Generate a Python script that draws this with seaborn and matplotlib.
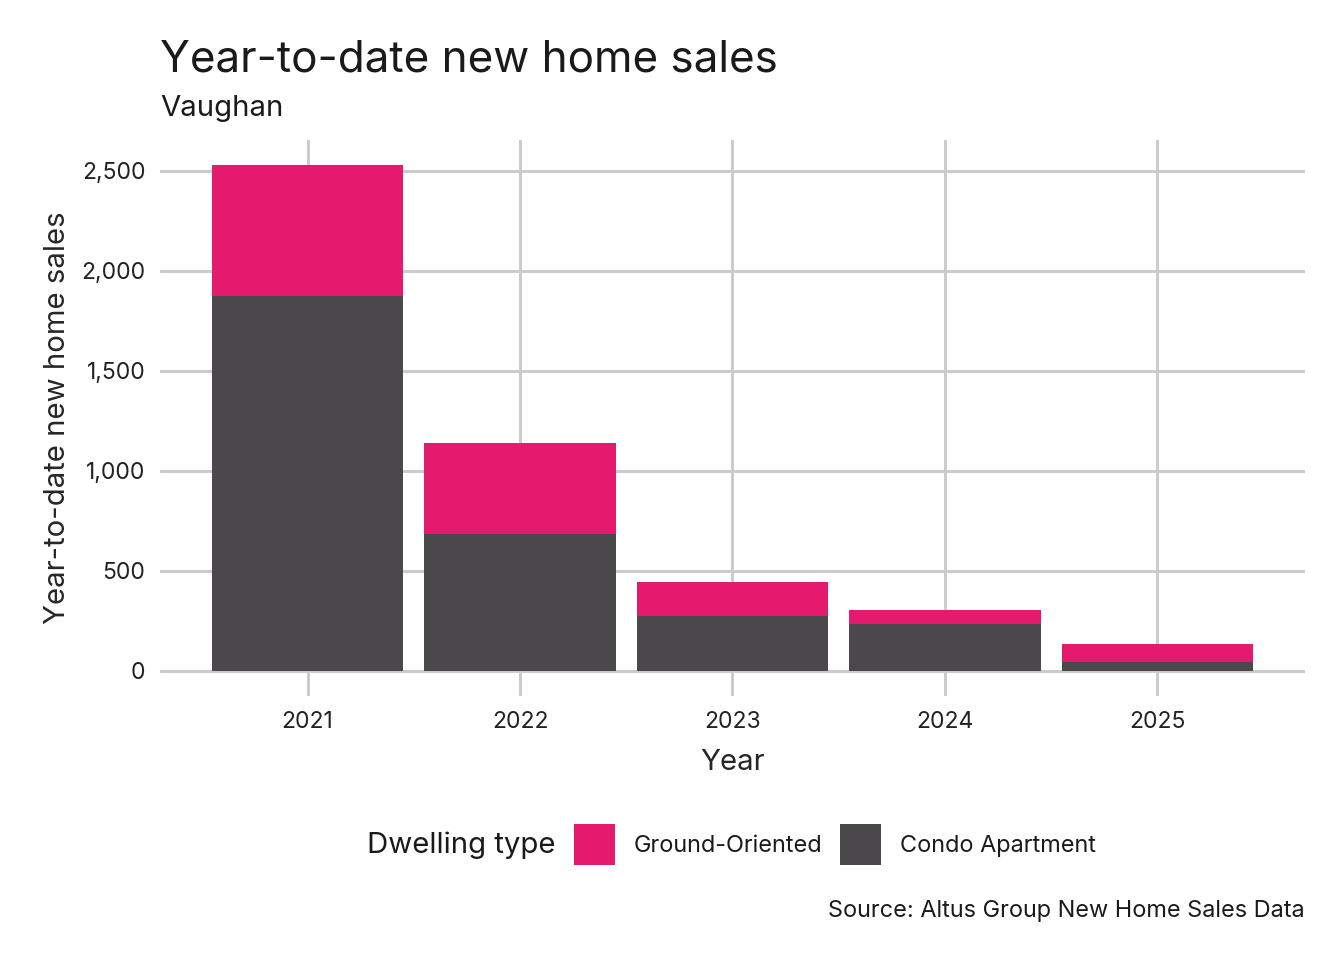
import numpy as np
import pandas as pd
import seaborn as sns
import matplotlib.pyplot as plt
from matplotlib.patches import Patch
from matplotlib.ticker import FuncFormatter

# data
years = [2021, 2022, 2023, 2024, 2025]
condo = [1873, 684, 272, 232, 42]
ground = [653, 453, 170, 70, 90]
dwelling_types = ['Ground-Oriented', 'Condo Apartment']
colours = {'Ground-Oriented': '#E31A6E', 'Condo Apartment': '#4A484B'}

df = pd.DataFrame({
    'Year': years * 2,
    'Sales': ground + condo,
    'Dwelling type': ['Ground-Oriented'] * len(years) + ['Condo Apartment'] * len(years),
})

sns.set_theme(style='white')
plt.rcParams['font.family'] = ['Inter', 'DejaVu Sans']
plt.rcParams['text.color'] = '#1a1a1a'

fig = plt.figure(figsize=(7, 5), dpi=192)
ax = fig.add_axes([0.119, 0.275, 0.852, 0.579])

sns.histplot(data=df, x='Year', weights='Sales', hue='Dwelling type',
             hue_order=dwelling_types, palette=colours, multiple='stack',
             discrete=True, shrink=0.9, alpha=1, linewidth=0, legend=False,
             ax=ax, zorder=3)

total_max = max(c + g for c, g in zip(condo, ground))
ax.set_xlim(2020.55 - 0.245, 2025.45 + 0.245)
ax.set_ylim(-0.05 * total_max, 1.05 * total_max)
ax.set_xticks(years)
ax.set_yticks([0, 500, 1000, 1500, 2000, 2500])
ax.yaxis.set_major_formatter(FuncFormatter(lambda v, p: f'{int(v):,}'))
ax.grid(True, color='#CBCBCB', linewidth=1.1, zorder=0)
ax.set_axisbelow(True)
for s in ax.spines.values():
    s.set_visible(False)
ax.tick_params(length=0, labelsize=8.6, colors='#222222', pad=5.5)

ax.set_xlabel('Year', fontsize=11, labelpad=6)
ax.set_ylabel('Year-to-date new home sales', fontsize=11, labelpad=3.8)

fig.text(0.119, 0.925, 'Year-to-date new home sales', fontsize=16.5, ha='left', va='baseline')
fig.text(0.119, 0.879, 'Vaughan', fontsize=11, ha='left', va='baseline')
fig.text(0.971, 0.045, 'Source: Altus Group New Home Sales Data', fontsize=8.8,
         ha='right', va='baseline')

handles = [Patch(facecolor=colours[t], edgecolor='none', label=t) for t in dwelling_types]
fig.text(0.413, 0.12, 'Dwelling type', fontsize=11, ha='right', va='center')
fig.legend(handles=handles, loc='center left', bbox_to_anchor=(0.427, 0.12), ncol=2,
           frameon=False, fontsize=8.8, handlelength=1.75, handleheight=2.33,
           handletextpad=0.78, columnspacing=0.78, borderpad=0, borderaxespad=0)

fig.savefig('out.png', dpi=192)
